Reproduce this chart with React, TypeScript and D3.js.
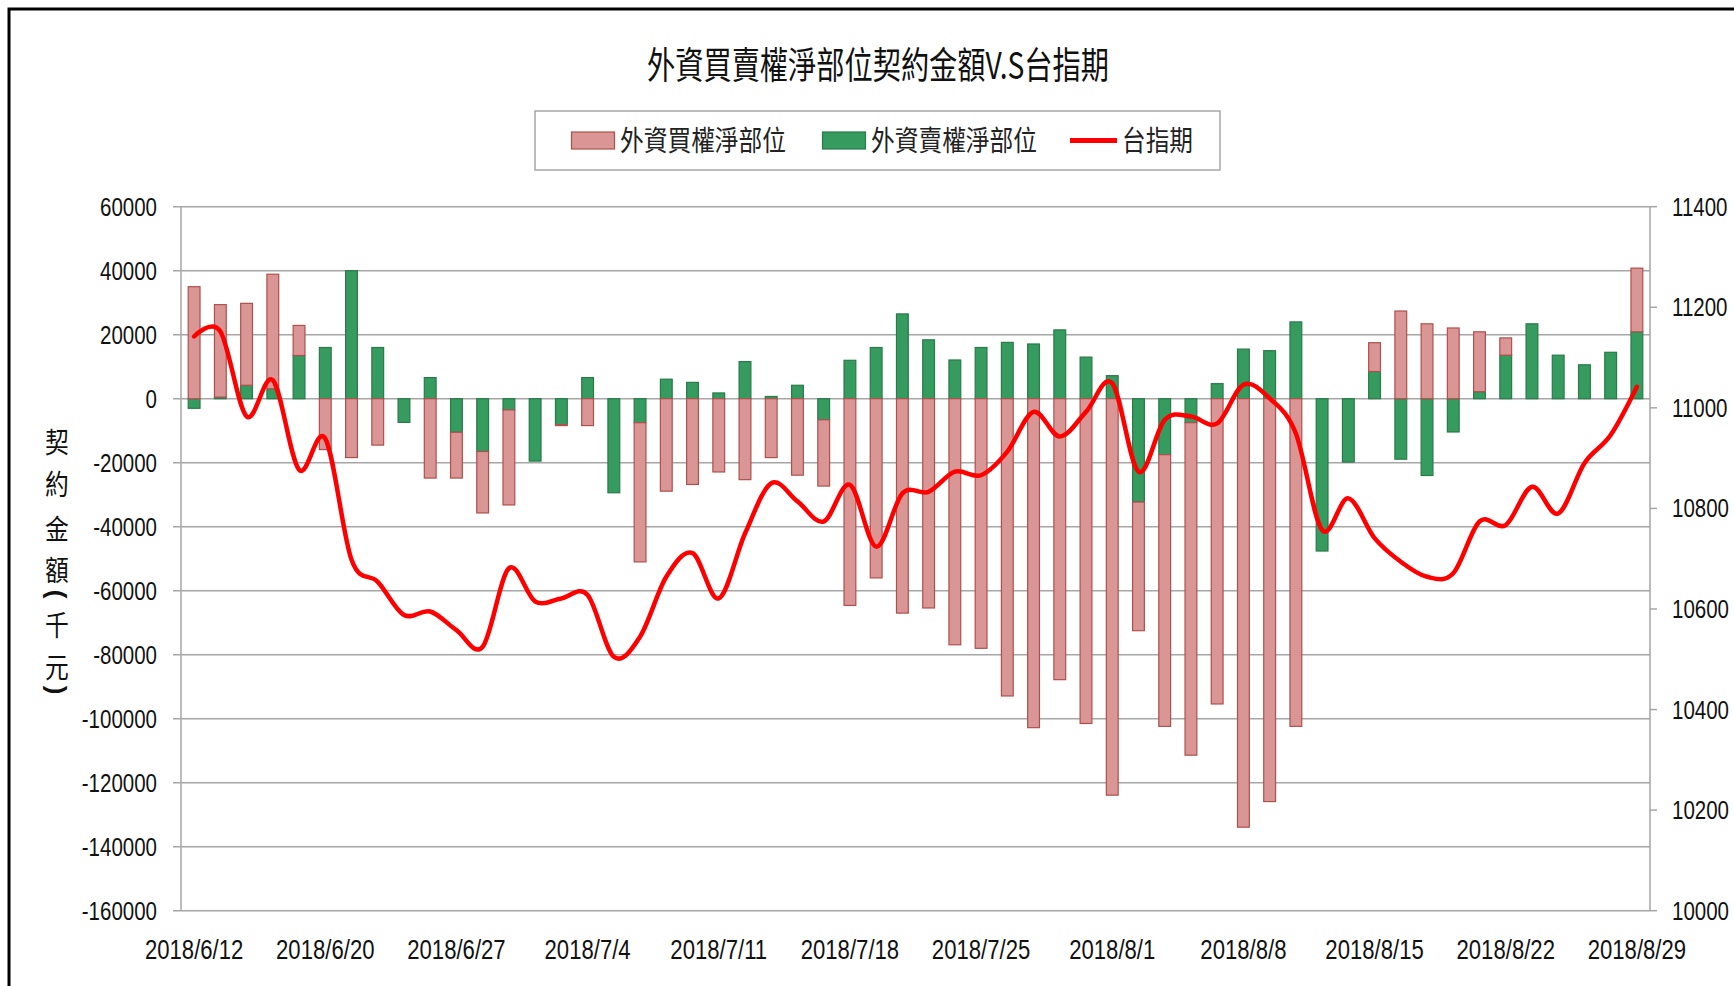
import React from 'react';
import * as d3 from 'd3';

// trading days shown on the category axis
const dates = [
  '2018/6/12', '2018/6/13', '2018/6/14', '2018/6/15', '2018/6/19', '2018/6/20', '2018/6/21', '2018/6/22',
  '2018/6/25', '2018/6/26', '2018/6/27', '2018/6/28', '2018/6/29',
  '2018/7/2', '2018/7/3', '2018/7/4', '2018/7/5', '2018/7/6', '2018/7/9', '2018/7/10', '2018/7/11',
  '2018/7/12', '2018/7/13', '2018/7/16', '2018/7/17', '2018/7/18', '2018/7/19', '2018/7/20', '2018/7/23',
  '2018/7/24', '2018/7/25', '2018/7/26', '2018/7/27', '2018/7/30', '2018/7/31',
  '2018/8/1', '2018/8/2', '2018/8/3', '2018/8/6', '2018/8/7', '2018/8/8', '2018/8/9', '2018/8/10',
  '2018/8/13', '2018/8/14', '2018/8/15', '2018/8/16', '2018/8/17', '2018/8/20', '2018/8/21', '2018/8/22',
  '2018/8/23', '2018/8/24', '2018/8/27', '2018/8/28', '2018/8/29',
];

// 外資買權淨部位 (千元)
const callNet = [
  35000, 28900, 25600, 35800, 9400, -15900, -18400, -14500, 0, -24800, -14300, -19200, -29700,
  0, -300, -8400, 0, -43500, -28900, -26800, -22900, -25300, -18400, -23900, -20700, -64600,
  -56000, -67000, -65400, -76900, -78000, -92900, -102800, -87800, -101500,
  -123900, -40200, -84900, -103900, -95400, -133900, -125900, -102400, 0, 0, 9000, 27400,
  23400, 22100, 18700, 5400, 0, 0, 0, 0, 19900,
];

// 外資賣權淨部位 (千元)
const putNet = [
  -3000, 500, 4200, 3100, 13500, 16000, 40000, 16000, -7400, 6600, -10500, -16500, -3500,
  -19500, -8100, 6600, -29400, -7500, 6100, 5100, 1800, 11600, 700, 4200, -6600, 12000,
  16000, 26500, 18400, 12100, 16000, 17600, 17100, 21500, 13000,
  7200, -32300, -17500, -7500, 4700, 15500, 15000, 24000, -47600, -19800, 8500, -18900,
  -24000, -10400, 2200, 13600, 23400, 13600, 10600, 14500, 20900,
];

// 台指期
const taiex = [
  11142, 11152, 10983, 11055, 10877, 10939, 10698, 10654, 10588, 10595, 10558, 10525, 10681,
  10615, 10621, 10628, 10505, 10545, 10664, 10711, 10621, 10750, 10850, 10814, 10774, 10847,
  10724, 10830, 10833, 10873, 10866, 10913, 10992, 10943, 10992,
  11049, 10873, 10976, 10983, 10969, 11046, 11019, 10949, 10757, 10820, 10741, 10694,
  10664, 10671, 10774, 10767, 10843, 10790, 10890, 10946, 11042,
];

const leftTicks = d3.range(-160000, 60001, 20000);
const rightTicks = d3.range(10000, 11401, 200);
const xLabels = dates.filter((_, i) => i % 5 === 0);

const W = 1734;
const H = 986;
const margin = { top: 206.7, right: 84, bottom: 75.3, left: 181 };

const NUM_FONT = '"Liberation Sans", Arial, sans-serif';
const CJK_FONT = '"Noto Sans CJK TC", "Noto Sans CJK SC", sans-serif';
const SQUEEZE = 0.82; // the reference uses a narrow face

const PINK = '#D99694';
const PINK_EDGE = '#B0504D';
const GREEN = '#359B5E';
const GREEN_EDGE = '#2A7A4A';
const GRID = '#A6A6A6';

function NarrowText({ x, y, anchor = 'start', size, children }: any) {
  return (
    <g transform={`translate(${x},${y}) scale(${SQUEEZE},1)`}>
      <text x={0} y={0} textAnchor={anchor} fontFamily={NUM_FONT} fontSize={size} fill="#111">
        {children}
      </text>
    </g>
  );
}

export default function App() {
  const x0 = margin.left;
  const x1 = W - margin.right;
  const y0 = margin.top;
  const y1 = H - margin.bottom;

  const x = d3.scaleBand().domain(dates).range([x0, x1]).paddingInner(0.55).paddingOuter(0.275);
  const yL = d3.scaleLinear().domain([-160000, 60000]).range([y1, y0]);
  const yR = d3.scaleLinear().domain([10000, 11400]).range([y1, y0]);

  const rows = dates.map((d, i) => ({ date: d, put: putNet[i], call: callNet[i] }));
  // green sits next to the zero line, pink stacked beyond it
  const series = d3.stack().keys(['put', 'call']).offset(d3.stackOffsetDiverging)(rows as any);
  const colors = { put: [GREEN, GREEN_EDGE], call: [PINK, PINK_EDGE] };

  const line = d3
    .line<number>()
    .x((_, i) => (x(dates[i]) as number) + x.bandwidth() / 2)
    .y((v) => yR(v))
    .curve(d3.curveCardinal.tension(0));

  const yTitle = [
    { ch: '契', cy: 443 },
    { ch: '約', cy: 485 },
    { ch: '金', cy: 530 },
    { ch: '額', cy: 571 },
    { ch: '千', cy: 626 },
    { ch: '元', cy: 668 },
  ];

  return (
    <svg
      width={W}
      height={H}
      style={{ position: 'absolute', left: 0, top: 0, background: '#fff' }}
    >
      <rect x={0} y={0} width={W} height={H} fill="#fff" />
      <rect x={9} y={9} width={W + 20} height={H + 20} fill="none" stroke="#000" strokeWidth={3} />

      {/* title */}
      <text
        x={647}
        y={79}
        fontFamily={CJK_FONT}
        fontSize={37}
        fill="#111"
        textLength={462}
        lengthAdjust="spacingAndGlyphs"
      >
        外資買賣權淨部位契約金額V.S台指期
      </text>

      {/* legend */}
      <rect x={535} y={111} width={685} height={59} fill="#fff" stroke={GRID} strokeWidth={1.5} />
      <rect x={571.5} y={132} width={43} height={17} fill={PINK} stroke={PINK_EDGE} strokeWidth={1.2} />
      <text x={620} y={151} fontFamily={CJK_FONT} fontSize={28} fill="#222" textLength={166} lengthAdjust="spacingAndGlyphs">
        外資買權淨部位
      </text>
      <rect x={822.5} y={132} width={43} height={17} fill={GREEN} stroke={GREEN_EDGE} strokeWidth={1.2} />
      <text x={871} y={151} fontFamily={CJK_FONT} fontSize={28} fill="#222" textLength={166} lengthAdjust="spacingAndGlyphs">
        外資賣權淨部位
      </text>
      <line x1={1070} x2={1117} y1={140.5} y2={140.5} stroke="#FF0000" strokeWidth={5} />
      <text x={1122} y={151} fontFamily={CJK_FONT} fontSize={28} fill="#222" textLength={71} lengthAdjust="spacingAndGlyphs">
        台指期
      </text>

      {/* gridlines + left ticks */}
      {leftTicks.map((t) => (
        <g key={t}>
          <line x1={x0 - 8} x2={x1} y1={yL(t)} y2={yL(t)} stroke={GRID} strokeWidth={1.5} />
          <NarrowText x={157} y={yL(t) + 9} anchor="end" size={25}>
            {t}
          </NarrowText>
        </g>
      ))}

      {/* stacked bars */}
      {series.map((s) =>
        s.map((p, i) => {
          const lo = Math.min(p[0], p[1]);
          const hi = Math.max(p[0], p[1]);
          if (hi - lo <= 0) return null;
          const [fill, edge] = colors[s.key as 'put' | 'call'];
          return (
            <rect
              key={s.key + i}
              x={x(dates[i])}
              y={yL(hi)}
              width={x.bandwidth()}
              height={yL(lo) - yL(hi)}
              fill={fill}
              stroke={edge}
              strokeWidth={1.2}
            />
          );
        })
      )}

      {/* axes lines */}
      <line x1={x0} x2={x0} y1={y0} y2={y1} stroke={GRID} strokeWidth={1.5} />
      <line x1={x1} x2={x1} y1={y0} y2={y1} stroke={GRID} strokeWidth={1.5} />

      {/* right axis */}
      {rightTicks.map((t) => (
        <g key={t}>
          <line x1={x1} x2={x1 + 7} y1={yR(t)} y2={yR(t)} stroke={GRID} strokeWidth={1.5} />
          <NarrowText x={1672} y={yR(t) + 9} size={25}>
            {t}
          </NarrowText>
        </g>
      ))}

      {/* category labels */}
      {xLabels.map((d) => (
        <NarrowText key={d} x={(x(d) as number) + x.bandwidth() / 2} y={959} anchor="middle" size={27}>
          {d}
        </NarrowText>
      ))}

      {/* index line */}
      <path d={line(taiex) || ''} fill="none" stroke="#FF0000" strokeWidth={4.5} strokeLinejoin="round" strokeLinecap="round" />

      {/* vertical y-axis title */}
      <g transform="translate(57,0) scale(0.85,1)">
        {yTitle.map((c) => (
          <text
            key={c.ch}
            x={0}
            y={c.cy + 10}
            textAnchor="middle"
            fontFamily={CJK_FONT}
            fontSize={28}
            fill="#111"
          >
            {c.ch}
          </text>
        ))}
      </g>
      {/* parentheses turned for vertical writing */}
      <g transform="translate(57,594) rotate(90)">
        <text x={0} y={0} textAnchor="middle" dominantBaseline="central" fontFamily={NUM_FONT} fontSize={26} fontWeight="bold" fill="#111">
          (
        </text>
      </g>
      <g transform="translate(57,690) rotate(90)">
        <text x={0} y={0} textAnchor="middle" dominantBaseline="central" fontFamily={NUM_FONT} fontSize={26} fontWeight="bold" fill="#111">
          )
        </text>
      </g>
    </svg>
  );
}
